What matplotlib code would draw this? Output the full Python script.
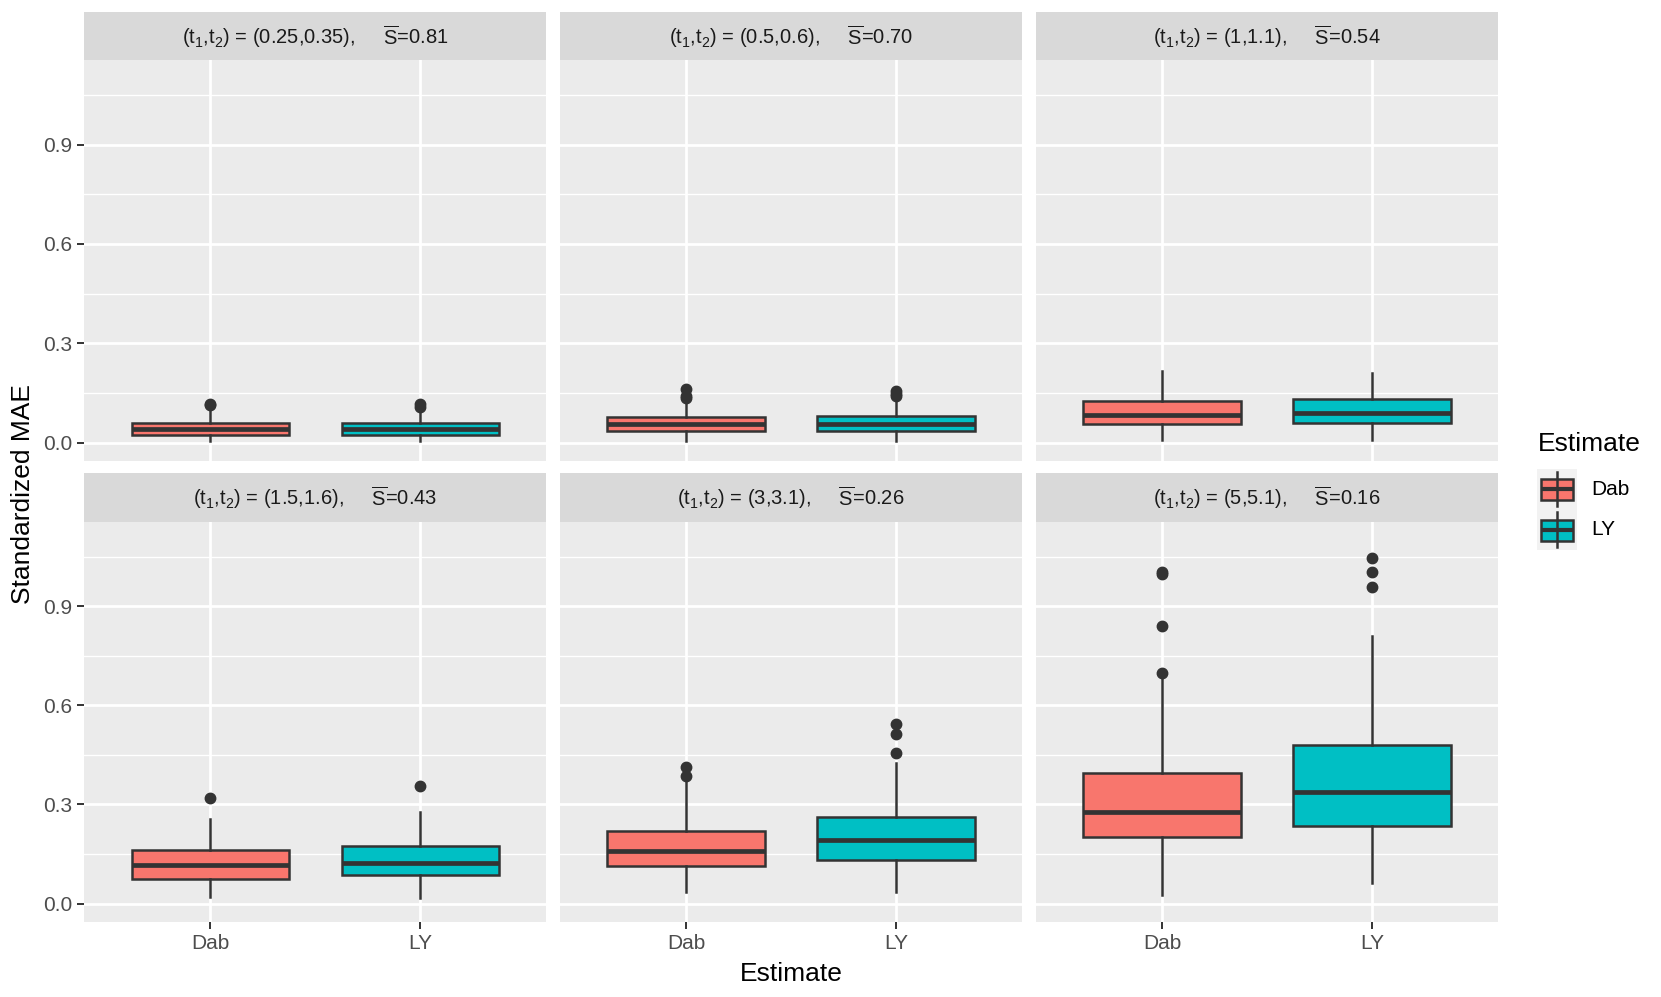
import matplotlib
matplotlib.use("Agg")
import matplotlib.pyplot as plt
from matplotlib.patches import Rectangle

plt.rcParams['font.family'] = ['Liberation Sans', 'DejaVu Sans']
plt.rcParams['mathtext.fontset'] = 'custom'
plt.rcParams['mathtext.rm'] = 'Liberation Sans'
plt.rcParams['mathtext.it'] = 'Liberation Sans'

# data
estimates = ['Dab', 'LY']
t_pairs = ['(0.25,0.35)', '(0.5,0.6)', '(1,1.1)', '(1.5,1.6)', '(3,3.1)', '(5,5.1)']
s_bar = ['0.81', '0.70', '0.54', '0.43', '0.26', '0.16']

dab_lo = [0.005, 0.005, 0.008, 0.019, 0.035, 0.026]
dab_q1 = [0.023, 0.036, 0.056, 0.074, 0.115, 0.202]
dab_med = [0.041, 0.057, 0.084, 0.116, 0.160, 0.278]
dab_q3 = [0.060, 0.076, 0.126, 0.161, 0.221, 0.394]
dab_hi = [0.108, 0.125, 0.215, 0.257, 0.369, 0.682]
dab_out = [[0.113, 0.117], [0.135, 0.140, 0.162], [], [0.318],
           [0.387, 0.412], [0.697, 0.841, 0.998, 1.005]]

ly_lo = [0.005, 0.005, 0.008, 0.016, 0.035, 0.061]
ly_q1 = [0.024, 0.036, 0.058, 0.087, 0.133, 0.235]
ly_med = [0.041, 0.055, 0.090, 0.122, 0.193, 0.339]
ly_q3 = [0.060, 0.079, 0.131, 0.174, 0.262, 0.480]
ly_hi = [0.100, 0.130, 0.210, 0.277, 0.426, 0.810]
ly_out = [[0.106, 0.115], [0.140, 0.148, 0.157], [], [0.357],
          [0.457, 0.512, 0.543], [0.959, 1.005, 1.045]]

fills = ['#F8766D', '#00BFC4']
dark = '#333333'

W, H = 1661, 997


def rect(x0, top, w, h):
    return [x0 / W, 1 - (top + h) / H, w / W, h / H]


fig = plt.figure(figsize=(W / 100, H / 100), dpi=100)

lefts = [84.3, 560.2, 1036.1]
pw = 462
rows = [(12.3, 47.7, 60.0, 400.7), (473.3, 48.4, 521.7, 400.0)]

for i in range(6):
    r, c = divmod(i, 3)
    s_top, s_h, p_top, p_h = rows[r]

    ax = fig.add_axes(rect(lefts[c], p_top, pw, p_h))
    ax.set_facecolor('#EBEBEB')
    for sp in ax.spines.values():
        sp.set_visible(False)

    stats = [
        dict(whislo=dab_lo[i], q1=dab_q1[i], med=dab_med[i], q3=dab_q3[i],
             whishi=dab_hi[i], fliers=dab_out[i], label=estimates[0]),
        dict(whislo=ly_lo[i], q1=ly_q1[i], med=ly_med[i], q3=ly_q3[i],
             whishi=ly_hi[i], fliers=ly_out[i], label=estimates[1]),
    ]
    bp = ax.bxp(stats, positions=[1, 2], widths=0.75, patch_artist=True,
                showcaps=False,
                boxprops=dict(edgecolor=dark, linewidth=1.8),
                medianprops=dict(color=dark, linewidth=3.4, solid_capstyle='butt'),
                whiskerprops=dict(color=dark, linewidth=1.8),
                flierprops=dict(marker='o', markerfacecolor=dark,
                                markeredgecolor=dark, markersize=7.5))
    for box, col in zip(bp['boxes'], fills):
        box.set_facecolor(col)

    ax.set_xlim(0.4, 2.6)
    ax.set_ylim(-0.055, 1.156)
    ax.set_xticks([1, 2])
    ax.set_yticks([0.0, 0.3, 0.6, 0.9])
    ax.set_yticks([0.15, 0.45, 0.75, 1.05], minor=True)
    ax.set_axisbelow(True)
    ax.grid(which='major', color='white', linewidth=2.0)
    ax.grid(which='minor', axis='y', color='white', linewidth=1.0)
    ax.tick_params(which='minor', length=0)
    ax.tick_params(which='major', length=4.8, width=1.4, color=dark,
                   labelcolor='#4D4D4D', labelsize=15, pad=4)
    if c == 0:
        ax.set_yticklabels(['0.0', '0.3', '0.6', '0.9'])
    else:
        ax.tick_params(axis='y', left=False, labelleft=False)
    if r == 1:
        ax.set_xticklabels(estimates)
    else:
        ax.tick_params(axis='x', bottom=False, labelbottom=False)

    sax = fig.add_axes(rect(lefts[c], s_top, pw, s_h))
    sax.set_facecolor('#D9D9D9')
    sax.set_xticks([])
    sax.set_yticks([])
    for sp in sax.spines.values():
        sp.set_visible(False)
    label = ('($\\mathrm{t}_1$,$\\mathrm{t}_2$) = ' + t_pairs[i] +
             ',     $\\overline{\\mathrm{S}}$=' + s_bar[i])
    sax.text(0.5, 0.5, label, ha='center', va='center', fontsize=14.5,
             color='#1A1A1A', transform=sax.transAxes)

fig.text(23.5 / W, 1 - 494 / H, 'Standardized MAE', rotation=90,
         ha='center', va='center', fontsize=19)
fig.text(791 / W, 1 - 974 / H, 'Estimate', ha='center', va='center', fontsize=19)

# legend
fig.text(1538 / W, 1 - 444 / H, 'Estimate', ha='left', va='center', fontsize=19)
lax = fig.add_axes(rect(1536.7, 469, 40, 81))
lax.set_xlim(0, 40)
lax.set_ylim(81, 0)
lax.set_facecolor('#F2F2F2')
lax.set_xticks([])
lax.set_yticks([])
for sp in lax.spines.values():
    sp.set_visible(False)
for k, col in enumerate(fills):
    y0 = k * 40.5
    lax.plot([20, 20], [y0 + 3, y0 + 37], color=dark, lw=1.8)
    lax.add_patch(Rectangle((4, y0 + 10), 32, 21, facecolor=col,
                            edgecolor=dark, linewidth=1.8))
    lax.plot([4, 36], [y0 + 20.5, y0 + 20.5], color=dark, lw=3.0,
             solid_capstyle='butt')
    fig.text(1591 / W, 1 - (489 + k * 40.5) / H, estimates[k],
             ha='left', va='center', fontsize=15)

fig.savefig('out.png', dpi=100)
